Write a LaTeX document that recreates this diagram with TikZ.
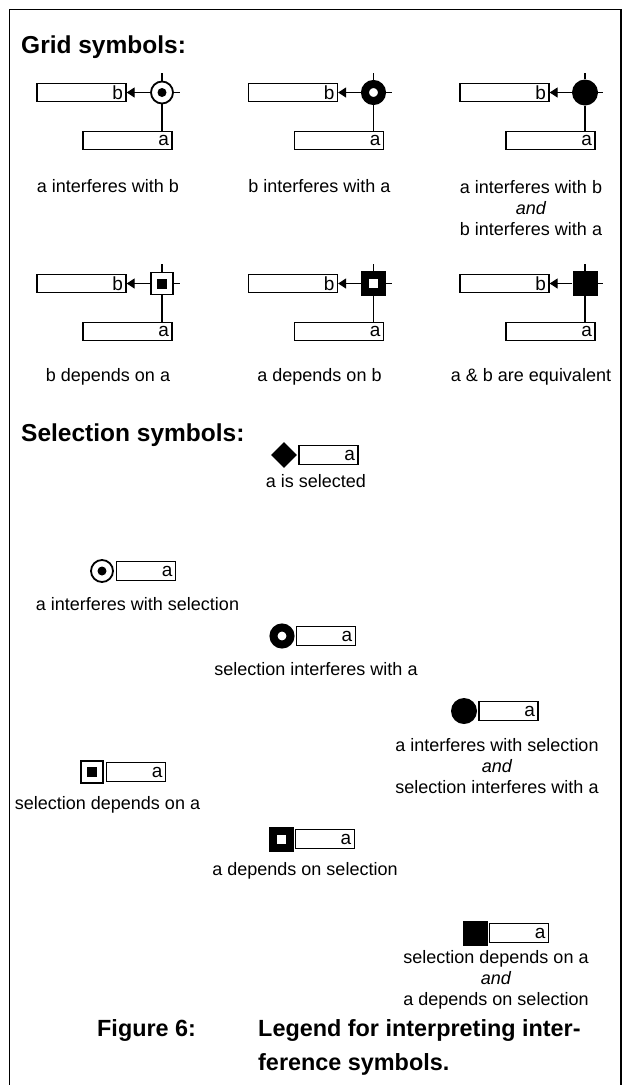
\documentclass[tikz,border=0pt]{standalone}
\usepackage{fontspec}
\setmainfont{Liberation Sans}
\usetikzlibrary{arrows.meta,shapes.geometric}
\begin{document}
\begin{tikzpicture}[x=1pt,y=-1pt,
  lab/.style={font=\fontsize{18}{21}\selectfont, align=center, inner sep=0pt},
  head/.style={font=\fontsize{24.5}{28}\selectfont\bfseries, inner sep=0pt, anchor=base west},
  capt/.style={font=\fontsize{23.4}{30}\selectfont\bfseries, inner sep=0pt, anchor=base west},
  boxb/.style={draw, line width=1.3pt, minimum width=89pt, minimum height=18.5pt, inner ysep=0pt, inner xsep=3pt, text width=83pt, align=right, font=\fontsize{19}{19}\selectfont},
  boxa/.style={draw, line width=1.3pt, minimum width=59pt, minimum height=18.5pt, inner ysep=0pt, inner xsep=3pt, text width=53pt, align=right, font=\fontsize{19}{19}\selectfont},
  cring/.style={circle, draw, line width=1.8pt, minimum size=22pt, inner sep=0pt, fill=white},
  cthick/.style={circle, draw, line width=8pt, minimum size=17pt, inner sep=0pt, fill=white},
  cfull/.style={circle, fill, minimum size=26pt, inner sep=0pt},
  sring/.style={rectangle, draw, line width=1.8pt, minimum size=22pt, inner sep=0pt, fill=white},
  sthick/.style={rectangle, draw, line width=8pt, minimum size=17pt, inner sep=0pt, fill=white},
  sfull/.style={rectangle, fill, minimum size=25pt, inner sep=0pt},
  dotc/.style={circle, fill, minimum size=9pt, inner sep=0pt},
  dots/.style={rectangle, fill, minimum size=10pt, inner sep=0pt},
  dia/.style={diamond, fill, minimum size=26pt, inner sep=0pt},
  conn/.style={line width=1.3pt},
  arr/.style={conn, -{Triangle[length=8pt,width=10pt]}},
]
\useasboundingbox (0,0) rectangle (623,1085);
\draw[line width=1.2pt] (9.5,1085) -- (9.5,9.5) -- (621,9.5) -- (621,1085);

\node[head] (h1) at (21,53) {Grid symbols:};

% ---------- grid cells ----------
\newcommand\gcell[5]{%
  \begin{scope}[shift={(#2,#3)}]
    \node[#4] (s#1) at (0,0) {};
    #5
    \node[boxb] (b#1) at (-80.5,0) {b};
    \node[boxb] (a#1) at (-34.5,48) {a};
    \coordinate (t#1) at (0,-20);
    \coordinate (r#1) at (18,0);
    \draw[arr] (s#1) -- (b#1);
    \draw[conn] (s#1.north) -- (t#1);
    \draw[conn] (s#1.east) -- (r#1);
    \draw[conn] (s#1.south) -- (s#1.south |- a#1.north);
  \end{scope}}

\gcell{1}{162}{92.5}{cring}{\node[dotc] (d1) at (0,0) {};}
\gcell{2}{373.5}{92.5}{cthick}{}
\gcell{3}{585}{92.5}{cfull}{}
\gcell{4}{162}{283.5}{sring}{\node[dots] (d4) at (0,0) {};}
\gcell{5}{373.5}{283.5}{sthick}{}
\gcell{6}{585}{283.5}{sfull}{}

\node[lab] (l1) at (108,186) {a interferes with b};
\node[lab] (l2) at (319.5,186) {b interferes with a};
\node[lab] (l3) at (531,208) {a interferes with b\\\textit{and}\\b interferes with a};
\node[lab] (l4) at (108,377) {b depends on a};
\node[lab] (l5) at (319.5,377) {a depends on b};
\node[lab] (l6) at (531,377) {a \& b are equivalent};

% ---------- selection symbols ----------
\node[head] (h2) at (21,441) {Selection symbols:};

\node[dia] (q1) at (284,455) {};
\node[boxa, anchor=west] (qa1) at ([xshift=1pt]q1.east) {a};
\node[lab] (ql1) at (316,481) {a is selected};

\node[cring] (q2) at (102,571) {};
\node[dotc] (qd2) at (q2) {};
\node[boxa, anchor=west] (qa2) at ([xshift=2pt]q2.east) {a};
\node[lab] (ql2) at (137.5,604) {a interferes with selection};

\node[cthick] (q3) at (282,636) {};
\node[boxa, anchor=west] (qa3) at ([xshift=1pt]q3.east) {a};
\node[lab] (ql3) at (316,669) {selection interferes with a};

\node[cfull] (q4) at (464,711) {};
\node[boxa, anchor=west] (qa4) at ([xshift=1pt]q4.east) {a};
\node[lab] (ql4) at (497,766) {a interferes with selection\\\textit{and}\\selection interferes with a};

\node[sring] (q5) at (92,772) {};
\node[dots] (qd5) at (q5) {};
\node[boxa, anchor=west] (qa5) at ([xshift=2pt]q5.east) {a};
\node[lab] (ql5) at (107.5,805) {selection depends on a};

\node[sthick] (q6) at (281,839) {};
\node[boxa, anchor=west] (qa6) at ([xshift=1pt]q6.east) {a};
\node[lab] (ql6) at (305,871) {a depends on selection};

\node[sfull] (q7) at (475,933) {};
\node[boxa, anchor=west] (qa7) at ([xshift=1pt]q7.east) {a};
\node[lab] (ql7) at (496,980) {selection depends on a\\\textit{and}\\a depends on selection};

% ---------- caption ----------
\node[capt] (c1) at (97,1036) {Figure 6:};
\node[capt] (c2) at (258,1036) {Legend for interpreting inter-};
\node[capt] (c3) at (258,1070) {ference symbols.};
\end{tikzpicture}
\end{document}
